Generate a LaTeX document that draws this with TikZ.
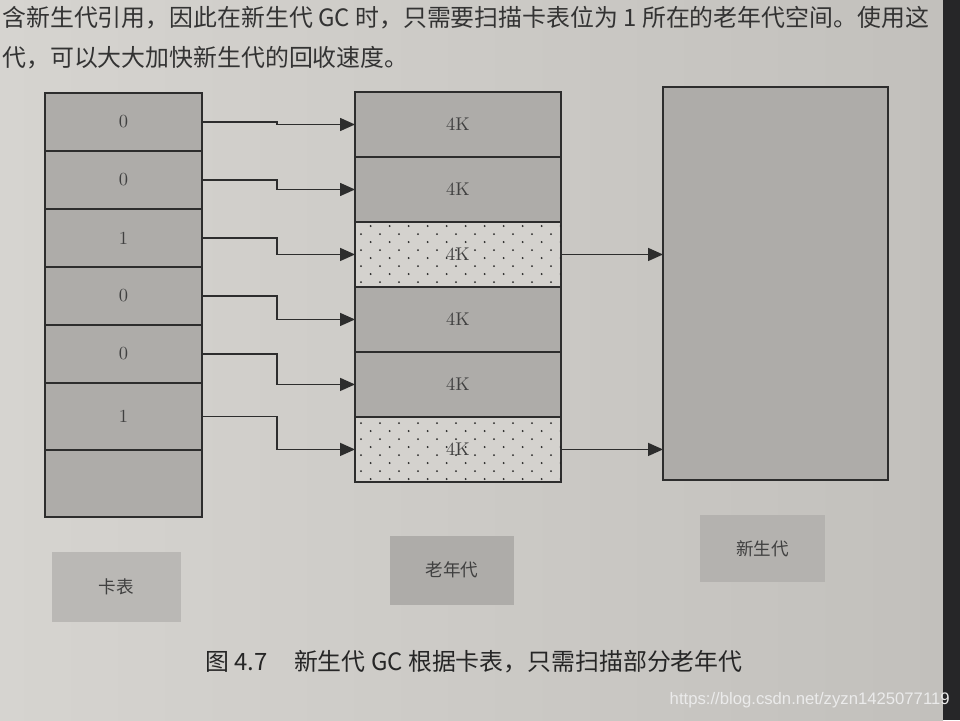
\documentclass[tikz,border=0pt]{standalone}
\usepackage{fontspec}
\newfontfamily\cjk{Noto Sans CJK SC}
\newfontfamily\wmfont{Liberation Sans}
\usetikzlibrary{arrows.meta,positioning,patterns.meta}
\definecolor{paperL}{RGB}{214,212,208}
\definecolor{paperR}{RGB}{194,192,188}
\definecolor{cellgray}{RGB}{174,172,169}
\definecolor{dotgray}{RGB}{212,210,206}
\definecolor{inkgray}{RGB}{45,45,45}
\definecolor{deskdark}{RGB}{38,38,40}
\tikzdeclarepattern{name=sparsedots,type=uncolored,
  bounding box={(0pt,0pt) and (11pt,9pt)},tile size={(11pt,9pt)},
  code={\fill (2.75pt,2.25pt) circle (0.6pt); \fill (8.25pt,6.75pt) circle (0.6pt);}}

\begin{document}
\begin{tikzpicture}[x=0.02cm,y=-0.02cm,font=\fontsize{10.5}{12}\selectfont,
  cell/.style={draw=inkgray,fill=cellgray,line width=0.85pt,inner sep=0pt,outer sep=0pt,text=black!75},
  card/.style={cell,minimum width=3.14cm,minimum height=1.16cm},
  cardtall/.style={card,minimum height=1.34cm},
  old/.style={cell,minimum width=4.12cm,minimum height=1.3cm},
  dirty/.style={old,fill=dotgray,postaction={pattern=sparsedots,pattern color=black!85}},
  tag/.style={fill=cellgray,minimum width=2.5cm,minimum height=1.38cm,font=\cjk\fontsize{10}{12}\selectfont,text=black!75},
  ar/.style={-{Triangle[length=3mm,width=2.6mm]},draw=inkgray,line width=0.85pt}]
\clip (0,0) rectangle (960,720);
\shade[left color=paperL,right color=paperR] (0,0) rectangle (943,720);
\fill[deskdark] (943,0) rectangle (960,720);
% page text round the figure
\node[anchor=west,inner sep=0pt,font=\cjk\fontsize{13.6}{16}\selectfont,text=black!80] (line1) at (2,18) {含新生代引用，因此在新生代 GC 时，只需要扫描卡表位为 1 所在的老年代空间。使用这};
\node[anchor=west,inner sep=0pt,font=\cjk\fontsize{13.6}{16}\selectfont,text=black!80] (line2) at (2,58) {代，可以大大加快新生代的回收速度。};
% card table
\node[card] (card1) at (123.5,122) {0};
\node[card,below=0pt of card1] (card2) {0};
\node[card,below=0pt of card2] (card3) {1};
\node[card,below=0pt of card3] (card4) {0};
\node[card,below=0pt of card4] (card5) {0};
\node[cardtall,below=0pt of card5] (card6) {1};
\node[cardtall,below=0pt of card6] (card7) {};
% old generation
\node[old] (old1) at (458,124.5) {4K};
\node[old,below=0pt of old1] (old2) {4K};
\node[dirty,below=0pt of old2] (old3) {4K};
\node[old,below=0pt of old3] (old4) {4K};
\node[old,below=0pt of old4] (old5) {4K};
\node[dirty,below=0pt of old5] (old6) {4K};
% young generation
\node[cell,minimum width=4.5cm,minimum height=7.86cm] (young) at (775.5,283.5) {};
\coordinate (bend) at (277,0);
\draw[ar] (card1.east) -- (card1.east -| bend) |- (old1.west);
\draw[ar] (card2.east) -- (card2.east -| bend) |- (old2.west);
\draw[ar] (card3.east) -- (card3.east -| bend) |- (old3.west);
\draw[ar] (card4.east) -- (card4.east -| bend) |- (old4.west);
\draw[ar] (card5.east) -- (card5.east -| bend) |- (old5.west);
\draw[ar] (card6.east) -- (card6.east -| bend) |- (old6.west);
\draw[ar] (old3.east) -- (old3.east -| young.west);
\draw[ar] (old6.east) -- (old6.east -| young.west);
% legend boxes
\node[tag,fill=cellgray!70!paperL,minimum width=2.58cm,minimum height=1.4cm] (cardtag) at (116.5,587) {卡表};
\node[tag,minimum width=2.48cm] (oldtag) at (452,570) {老年代};
\node[tag,fill=cellgray!85!paperL,minimum height=1.34cm] (youngtag) at (762.5,548.5) {新生代};
\node[font=\cjk\fontsize{13.6}{16}\selectfont,text=black!85] (caption) at (474,662) {图 4.7\hspace{1.1em}新生代 GC 根据卡表，只需扫描部分老年代};
\node[anchor=east,inner sep=0pt,font=\wmfont\fontsize{9.5}{11}\selectfont,text=white!92!black] (mark) at (950,700) {https://blog.csdn.net/zyzn1425077119};
\end{tikzpicture}
\end{document}
